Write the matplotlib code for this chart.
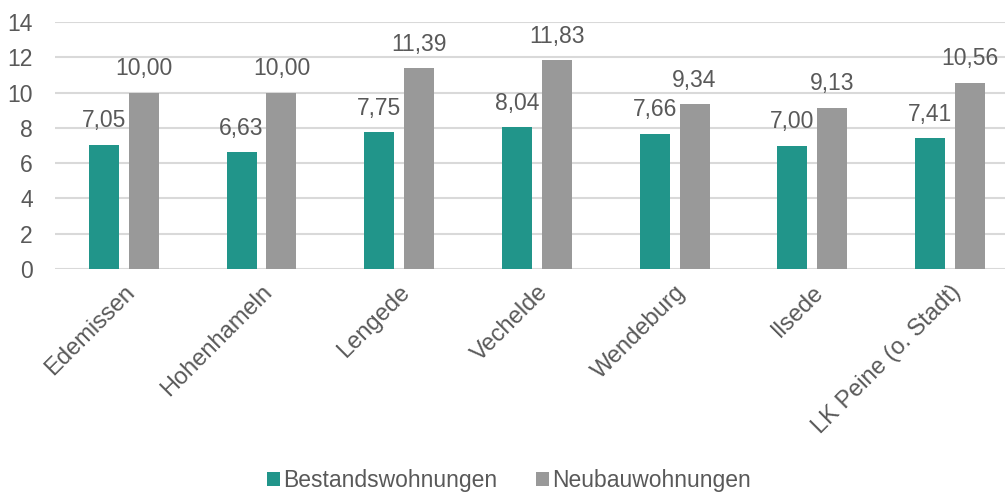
import matplotlib
matplotlib.use("Agg")
import matplotlib.pyplot as plt
import numpy as np

categories = ["Edemissen", "Hohenhameln", "Lengede", "Vechelde", "Wendeburg", "Ilsede", "LK Peine (o. Stadt)"]
bestand = [7.05, 6.63, 7.75, 8.04, 7.66, 7.00, 7.41]
neubau = [10.00, 10.00, 11.39, 11.83, 9.34, 9.13, 10.56]
series_names = ["Bestandswohnungen", "Neubauwohnungen"]
yticks = [0, 2, 4, 6, 8, 10, 12, 14]

plt.rcParams['font.family'] = ['Liberation Sans', 'DejaVu Sans']
teal = "#21958A"
grey = "#999999"
txt = "#595959"
fs = 16.5

fig = plt.figure(figsize=(10.08, 4.97), dpi=100)
ax = fig.add_axes([55/1008, 1-269/497, (1005-55)/1008, (269-22)/497])

x = np.arange(len(categories))
w = 0.218
off = 0.145
b1 = ax.bar(x - off, bestand, w, color=teal, label=series_names[0], zorder=3)
b2 = ax.bar(x + off, neubau, w, color=grey, label=series_names[1], zorder=3)

def fmt(v):
    return f"{v:.2f}".replace(".", ",")

for rects, vals in ((b1, bestand), (b2, neubau)):
    for r, v in zip(rects, vals):
        ax.annotate(fmt(v), (r.get_x() + r.get_width()/2, v), xytext=(0, 9),
                    textcoords="offset points", ha="center", va="bottom",
                    fontsize=fs, color=txt)

ax.set_xlim(-0.5, 6.4)
ax.set_ylim(0, 14)
ax.set_yticks(yticks)
ax.set_yticklabels([str(t) for t in yticks], fontsize=fs, color=txt)
ax.set_xticks(x)
ax.set_xticklabels(categories, rotation=45, ha="right", rotation_mode="anchor",
                   fontsize=17, color=txt)
ax.tick_params(axis="both", length=0)
ax.tick_params(axis="y", pad=16)
ax.tick_params(axis="x", pad=9)
for s in ax.spines.values():
    s.set_visible(False)
ax.grid(axis="y", color="#d9d9d9", linewidth=1.5, zorder=0)
ax.set_axisbelow(True)

leg = fig.legend(handles=[b1, b2], labels=series_names, loc="center",
                 bbox_to_anchor=(509/1008, 1-481/497), ncol=2, frameon=False,
                 fontsize=fs, handlelength=0.55, handleheight=0.55, handletextpad=0.15,
                 columnspacing=1.68)
for t in leg.get_texts():
    t.set_color(txt)

fig.savefig("out.png", dpi=100)
